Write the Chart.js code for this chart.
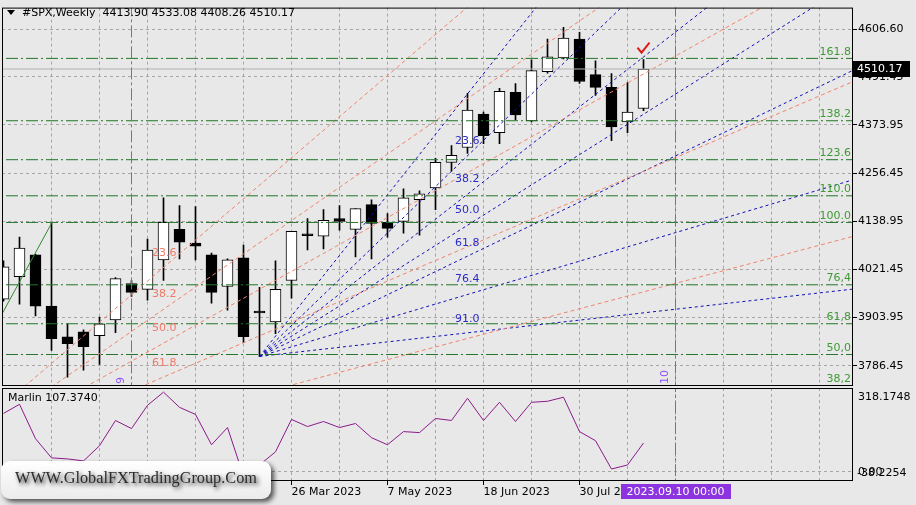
<!DOCTYPE html>
<html>
<head>
<meta charset="utf-8">
<script src="https://cdn.jsdelivr.net/npm/chart.js@4.4.0/dist/chart.umd.min.js"></script>
<style>
html, body { margin: 0; padding: 0; background: #e8e8e8; }
#wrap { position: relative; width: 916px; height: 505px; overflow: hidden; }
#wrap canvas { position: absolute; left: 0; top: 0; }
</style>
</head>
<body>
<div id="wrap">
  <canvas id="main" width="916" height="505"></canvas>
  <canvas id="ind" width="916" height="505"></canvas>
</div>
<script>
// weekly candles, index 0 = week of 20 Nov 2022
const opens  = [3948.7, 4004.0, 4056.8, 3931.9, 3857.4, 3869.4, 3859.8, 3898.2, 3987.1, 3972.7, 4044.8, 4119.3, 4085.6, 4056.8, 3979.9, 4049.6, 3917.5, 3893.4, 3994.4, 4104.9, 4102.5, 4145.7, 4119.3, 4179.3, 4136.1, 4138.5, 4191.3, 4220.2, 4282.6, 4318.7, 4400.4, 4354.7, 4453.2, 4383.6, 4503.7, 4537.3, 4583.0, 4496.5, 4465.3, 4381.2, 4413.90];
const highs  = [4042.4, 4100.1, 4058.0, 4133.7, 3888.6, 3874.2, 3905.5, 4001.6, 3994.4, 4095.3, 4196.2, 4176.9, 4174.5, 4061.6, 4047.2, 4080.8, 3977.5, 4042.4, 4114.5, 4145.7, 4167.3, 4176.9, 4169.7, 4191.3, 4157.7, 4217.8, 4213.0, 4292.3, 4323.5, 4450.8, 4405.2, 4462.9, 4474.9, 4532.5, 4583.0, 4611.8, 4599.8, 4530.1, 4498.9, 4477.3, 4533.08];
const lows   = [3943.9, 3936.7, 3907.9, 3823.8, 3758.9, 3775.7, 3790.1, 3867.0, 3955.9, 3946.3, 3994.4, 4047.2, 4044.8, 3939.1, 3922.3, 3843.0, 3809.4, 3864.6, 3951.1, 4068.8, 4071.2, 4116.9, 4052.0, 4047.2, 4100.1, 4109.7, 4104.9, 4167.3, 4261.0, 4304.3, 4328.3, 4328.3, 4386.0, 4381.2, 4500.0, 4535.0, 4474.9, 4446.0, 4335.5, 4354.7, 4408.26];
const closes = [4028.0, 4073.6, 3931.9, 3852.6, 3840.6, 3833.4, 3888.6, 3999.2, 3965.5, 4068.8, 4136.1, 4088.0, 4078.4, 3965.5, 4044.8, 3857.4, 3915.1, 3972.7, 4114.5, 4103.5, 4140.9, 4138.5, 4169.7, 4133.7, 4121.7, 4196.2, 4205.8, 4282.6, 4299.5, 4410.0, 4347.5, 4455.6, 4398.0, 4506.1, 4539.7, 4585.4, 4479.7, 4465.3, 4369.1, 4405.2, 4510.17];
const marlin = [220.8, 255.7, 124.0, 50.4, 46.5, 38.7, 96.9, 193.7, 162.7, 251.8, 302.2, 244.1, 216.9, 100.7, 166.6, -19.4, 23.2, 73.6, 197.6, 170.5, 189.8, 166.6, 182.1, 127.8, 100.7, 151.1, 147.2, 201.4, 193.7, 278.9, 193.7, 263.4, 189.8, 263.4, 267.3, 282.8, 151.1, 116.2, 7.7, 23.2, 107.374];
const lastPrice = 4510.17;

// axes
const priceTicks = [3786.45, 3903.95, 4021.45, 4138.95, 4256.45, 4373.95, 4491.45, 4606.60];
const gridWeeks = [3, 6, 9, 12, 15, 18, 21, 24, 27, 30, 33, 36, 39, 42, 45, 48, 51];
const dateTickWeeks = [6, 12, 18, 24, 30, 36];
const dateTickLabels = ['1 Jan 2023', '12 Feb 2023', '26 Mar 2023', '7 May 2023', '18 Jun 2023', '30 Jul 2023'];

// fibo expansion levels
const fiboNames  = ['161.8', '138.2', '123.6', '110.0', '100.0', '76,4', '61,8', '50,0', '38,2'];
const fiboPrices = [4536, 4384, 4289, 4201, 4136, 3984, 3889, 3814, 3738];
const fiboTrend = [[-6, 3491.6], [3, 4133.7]];

// fans: origin and price reached at the right edge
const fanEndWeek = 53.1;
const blueOrigin = [16, 3809.4];
const blueEnds = [5636, 5205, 4938, 4722, 4507, 4240, 3973.5];
const blueNames = ['23.6', '38.2', '50.0', '61.8', '76.4', '91.0'];
const blueLabelWeek = 28.22;
const blueLabelPrices = [4333.1, 4241.8, 4164.9, 4085.6, 3996.7, 3900.6];
const salmonOrigin = [-6, 3491.6];
const salmonEnds = [5466.6, 5089.6, 4784.6, 4479.6, 4102.1];
const salmonNames = ['23.6', '38.2', '50.0', '61.8'];
const salmonLabelWeek = 9.28;
const salmonLabelPrices = [4061.6, 3960.7, 3879.0, 3792.5];

const vLineWeeks = [8, 42];
const vLineNames = ['9', '10'];
const vLineDate = '2023.09.10 00:00';

const xMin = -0.09375, xMax = 53.09375;
const FONT = '11px "DejaVu Sans"';
const VIOLET = '#9050ff';
Chart.defaults.font.family = 'DejaVu Sans';
Chart.defaults.font.size = 11;

function seg(x0, y0, x1, y1, color, dash, order) {
  return { type: 'line', data: [{x: x0, y: y0}, {x: x1, y: y1}], borderColor: color,
    borderWidth: 1, borderDash: dash, pointRadius: 0, fill: false, order: order || 0 };
}

let sets = [];
sets.push(seg(xMin - 1, lastPrice, xMax + 1, lastPrice, '#b2b2b2', []));
fiboPrices.forEach(p => sets.push(seg(xMin - 1, p, xMax + 1, p, '#23762a', [12, 3, 2, 3])));
sets.push(seg(fiboTrend[0][0], fiboTrend[0][1], fiboTrend[1][0], fiboTrend[1][1], '#2f8a2f', []));
salmonEnds.forEach(p => sets.push(seg(salmonOrigin[0], salmonOrigin[1], fanEndWeek, p, '#f0846c', [4, 3])));
blueEnds.forEach(p => sets.push(seg(blueOrigin[0], blueOrigin[1], fanEndWeek, p, '#1010b8', [3, 3])));
vLineWeeks.forEach(w => sets.push(seg(w, 3000, w, 5000, VIOLET, [12, 3, 3, 3], -1)));

sets.push({
  type: 'bar', order: 1, grouped: false, barThickness: 11, minBarLength: 2,
  data: opens.map((o, i) => ({x: i, y: [o, closes[i]]})),
  backgroundColor: opens.map((o, i) => closes[i] >= o ? '#ffffff' : '#000000'),
  borderColor: '#000000', borderWidth: 1, borderSkipped: false
});
sets.push({
  type: 'bar', order: 2, grouped: false, barThickness: 1,
  data: lows.map((l, i) => ({x: i, y: [l, highs[i]]})),
  backgroundColor: '#000000', borderWidth: 0
});

const mainDecor = {
  id: 'mainDecor',
  afterDatasetsDraw(chart) {
    const {ctx, chartArea: a, scales: {x, y}} = chart;
    ctx.save();
    ctx.font = FONT;
    ctx.fillStyle = '#3f9a35';
    ctx.textAlign = 'right';
    ctx.textBaseline = 'bottom';
    fiboNames.forEach((t, k) => ctx.fillText(t, a.right - 2, y.getPixelForValue(fiboPrices[k]) - 1));
    ctx.textAlign = 'left';
    ctx.textBaseline = 'middle';
    ctx.fillStyle = '#2b2bc8';
    blueNames.forEach((t, k) => ctx.fillText(t, x.getPixelForValue(blueLabelWeek), y.getPixelForValue(blueLabelPrices[k])));
    ctx.fillStyle = '#f07a68';
    salmonNames.forEach((t, k) => ctx.fillText(t, x.getPixelForValue(salmonLabelWeek), y.getPixelForValue(salmonLabelPrices[k])));
    // vertical line names
    ctx.beginPath();
    ctx.rect(a.left, a.top, a.width, a.height);
    ctx.clip();
    ctx.fillStyle = VIOLET;
    vLineWeeks.forEach((w, k) => {
      ctx.save();
      ctx.translate(x.getPixelForValue(w) - 10, a.bottom - 1);
      ctx.rotate(-Math.PI / 2);
      ctx.textAlign = 'left';
      ctx.textBaseline = 'middle';
      ctx.fillText(vLineNames[k], 0, 0);
      ctx.restore();
    });
    // check mark above last candle
    const cx = x.getPixelForValue(40), cy = y.getPixelForValue(4562);
    ctx.strokeStyle = '#e01818';
    ctx.lineWidth = 2;
    ctx.beginPath();
    ctx.moveTo(cx - 6, cy);
    ctx.lineTo(cx - 2, cy + 5);
    ctx.lineTo(cx + 6, cy - 5);
    ctx.stroke();
    ctx.restore();
  },
  afterDraw(chart) {
    const {ctx, chartArea: a, scales: {y}} = chart;
    ctx.save();
    ctx.strokeStyle = '#000';
    ctx.lineWidth = 1;
    ctx.strokeRect(a.left + 0.5, a.top + 0.5, a.width - 1, a.height);
    const py = Math.round(y.getPixelForValue(lastPrice));
    ctx.fillStyle = '#000';
    ctx.fillRect(a.right, py - 8, 57, 16);
    ctx.font = FONT;
    ctx.fillStyle = '#fff';
    ctx.textBaseline = 'middle';
    ctx.fillText(lastPrice.toFixed(2), a.right + 4, py + 0.5);
    ctx.fillStyle = '#000';
    ctx.beginPath();
    ctx.moveTo(7, 10); ctx.lineTo(15, 10); ctx.lineTo(11, 15); ctx.closePath();
    ctx.fill();
    ctx.fillText('#SPX,Weekly  ' + [opens[40], highs[40], lows[40], closes[40]].map(v => v.toFixed(2)).join(' '), 22, 13);
    ctx.restore();
  }
};

new Chart(document.getElementById('main'), {
  type: 'bar',
  data: { datasets: sets },
  options: {
    responsive: false, animation: false, events: [], devicePixelRatio: 1,
    layout: { padding: {left: 2, top: 2, right: 0, bottom: 120} },
    plugins: { legend: {display: false}, tooltip: {enabled: false} },
    scales: {
      x: {
        type: 'linear', min: xMin, max: xMax, offset: false,
        afterBuildTicks: s => { s.ticks = gridWeeks.map(v => ({value: v})); },
        afterFit: s => { s.height = 0; },
        ticks: {display: false},
        grid: {color: '#a6a6a6', drawTicks: false, offset: false},
        border: {display: false, dash: [3, 3]}
      },
      y: {
        position: 'right', min: 3739.65, max: 4659.87,
        afterBuildTicks: s => { s.ticks = priceTicks.map(v => ({value: v})); },
        afterFit: s => { s.width = 63; },
        ticks: {color: '#000', padding: 1, autoSkip: false, callback: v => v.toFixed(2)},
        grid: {color: '#a6a6a6', tickColor: '#000', tickLength: 4, tickBorderDash: []},
        border: {display: false, dash: [3, 3]}
      }
    }
  },
  plugins: [mainDecor]
});

const indDecor = {
  id: 'indDecor',
  afterDraw(chart) {
    const {ctx, chartArea: a, scales: {x}} = chart;
    ctx.save();
    ctx.strokeStyle = '#000';
    ctx.lineWidth = 1;
    ctx.strokeRect(a.left + 0.5, a.top + 0.5, a.width - 1, a.height - 1);
    ctx.font = FONT;
    ctx.fillStyle = '#000';
    ctx.textBaseline = 'middle';
    ctx.fillText('Marlin ' + marlin[marlin.length - 1].toFixed(4), 8, 398);
    ctx.fillText('318.1748', a.right + 5, 397);
    ctx.fillText('-38.2254', a.right + 4, 473);
    ctx.fillText('0.00', a.right + 5, 472);
    // date box on the vertical line
    const vx = x.getPixelForValue(vLineWeeks[1]);
    ctx.fillStyle = '#8b34e0';
    ctx.fillRect(Math.round(vx - 55), 484, 110, 15);
    ctx.fillStyle = '#fff';
    ctx.textAlign = 'center';
    ctx.fillText(vLineDate, vx, 492);
    // watermark
    ctx.save();
    ctx.shadowColor = 'rgba(0,0,0,0.65)';
    ctx.shadowBlur = 5;
    ctx.shadowOffsetX = 3;
    ctx.shadowOffsetY = 3;
    const g = ctx.createLinearGradient(0, 461, 0, 499);
    g.addColorStop(0, '#ffffff');
    g.addColorStop(1, '#ebebeb');
    ctx.fillStyle = g;
    ctx.beginPath();
    ctx.roundRect(1, 461, 270, 38, 9);
    ctx.fill();
    ctx.restore();
    let fs = 20;
    ctx.font = fs + 'px "Liberation Serif"';
    const w = ctx.measureText('WWW.GlobalFXTradingGroup.Com').width;
    fs = fs * 242 / w;
    ctx.font = fs + 'px "Liberation Serif"';
    ctx.shadowColor = 'rgba(0,0,0,0.9)';
    ctx.shadowBlur = 4;
    ctx.shadowOffsetX = 2;
    ctx.shadowOffsetY = 2;
    ctx.fillStyle = '#2c2c2c';
    ctx.textAlign = 'center';
    ctx.fillText('WWW.GlobalFXTradingGroup.Com', 136, 479);
    ctx.restore();
  }
};

new Chart(document.getElementById('ind'), {
  type: 'line',
  data: {
    datasets: [
      { data: [{x: vLineWeeks[1], y: -100}, {x: vLineWeeks[1], y: 400}], borderColor: VIOLET, borderWidth: 1, borderDash: [12, 3, 3, 3], pointRadius: 0 },
      { data: marlin.map((v, i) => ({x: i, y: v})), borderColor: '#8a1a8a', borderWidth: 1, pointRadius: 0, fill: false, tension: 0 }
    ]
  },
  options: {
    responsive: false, animation: false, events: [], devicePixelRatio: 1,
    layout: { padding: {left: 2, top: 388, right: 0, bottom: 0} },
    plugins: { legend: {display: false}, tooltip: {enabled: false} },
    scales: {
      x: {
        type: 'linear', min: xMin, max: xMax, offset: false,
        afterBuildTicks: s => { s.ticks = gridWeeks.map(v => ({value: v})); },
        afterFit: s => { s.height = 24; },
        ticks: {
          autoSkip: false, maxRotation: 0, minRotation: 0, align: 'start', color: '#000', padding: 1,
          callback: v => { const k = dateTickWeeks.indexOf(v); return k >= 0 ? dateTickLabels[k] : ''; }
        },
        grid: {
          color: '#a6a6a6', tickLength: 4,
          tickColor: c => (c.tick && dateTickWeeks.includes(c.tick.value)) ? '#000' : 'rgba(0,0,0,0)'
        },
        border: {display: false, dash: [3, 3]}
      },
      y: {
        position: 'right', min: -38.2254, max: 318.1748,
        afterBuildTicks: s => { s.ticks = [{value: 0}]; },
        afterFit: s => { s.width = 63; },
        ticks: {display: false},
        grid: {color: '#a6a6a6', drawTicks: false},
        border: {display: false, dash: [3, 3]}
      }
    }
  },
  plugins: [indDecor]
});
</script>
</body>
</html>
